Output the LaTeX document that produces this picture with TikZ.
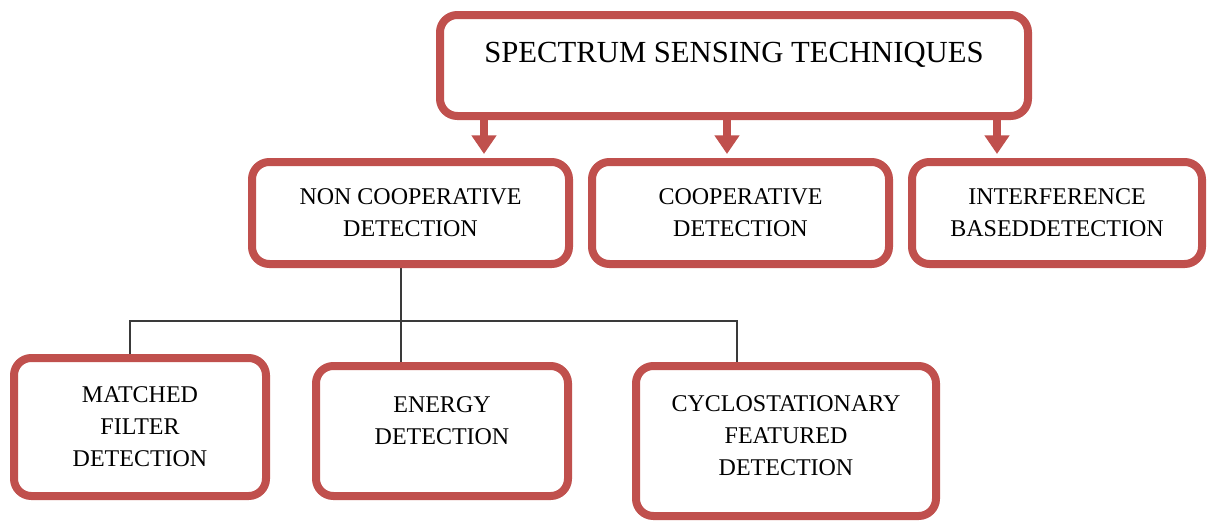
\documentclass[tikz,border=0pt]{standalone}
\usepackage{fontspec}
\setmainfont{Liberation Serif}
\usetikzlibrary{arrows.meta,backgrounds}
\definecolor{boxred}{HTML}{C0504D}
\definecolor{linkgray}{HTML}{3A3A3A}
\tikzset{
  box/.style={draw=boxred, line width=6pt, rounded corners=13pt, fill=white,
    align=center, inner sep=0pt, font=\fontsize{18}{24}\selectfont},
  titlebox/.style={box, font=\fontsize{23}{28}\selectfont,
    text height=16pt, text depth=21.2pt},
  arr/.style={draw=boxred, line width=5.5pt,
    -{Triangle[width=18pt,length=14pt]}, shorten >=3pt},
  link/.style={draw=linkgray, line width=1pt}
}
% zero-width rule that deepens the last text line, lifting a block of text
\newcommand{\liftby}[1]{\rule[-#1]{0pt}{0pt}}
\begin{document}
\begin{tikzpicture}[x=0.75pt,y=-0.75pt]
  \begin{scope}[on background layer]
    \fill[white] (0,0) rectangle (1208,521);
  \end{scope}
  \useasboundingbox (0,0) rectangle (1208,521);

  % root
  \node[titlebox, minimum width=441pt, minimum height=75.75pt] (root) at (734,65.5)
    {SPECTRUM SENSING TECHNIQUES};

  % second level
  \node[box, minimum width=237.75pt, minimum height=76.5pt] (noncoop) at (410.5,213)
    {NON COOPERATIVE\\DETECTION};
  \node[box, minimum width=222.75pt, minimum height=76.5pt] (coop) at (740.5,213)
    {COOPERATIVE\\DETECTION};
  \node[box, minimum width=217.5pt, minimum height=76.5pt] (interf) at (1057,213)
    {INTERFERENCE\\BASEDDETECTION};

  % third level
  \node[box, minimum width=189pt, minimum height=103.5pt] (matched) at (140,427)
    {MATCHED\\FILTER\\DETECTION};
  \node[box, minimum width=189pt, minimum height=97.5pt] (energy) at (442,431)
    {ENERGY\\DETECTION\liftby{15pt}};
  \node[box, minimum width=225pt, minimum height=112.5pt] (cyclo) at (786,441)
    {CYCLOSTATIONARY\\FEATURED\\DETECTION\liftby{7.5pt}};

  % arrows from the root
  \draw[arr] (484,0 |- root.south) -- (484,0 |- noncoop.north);
  \draw[arr] (727,0 |- root.south) -- (727,0 |- coop.north);
  \draw[arr] (997,0 |- root.south) -- (997,0 |- interf.north);

  % tree connectors below the non cooperative branch
  \coordinate (bus) at (401,321);
  \begin{scope}[on background layer]
    \draw[link] (bus |- noncoop.south) -- (bus |- energy.north);
    \draw[link] (130,0 |- matched.north) -- (130,0 |- bus) -- (737,0 |- bus)
      -- (737,0 |- cyclo.north);
  \end{scope}
\end{tikzpicture}
\end{document}
